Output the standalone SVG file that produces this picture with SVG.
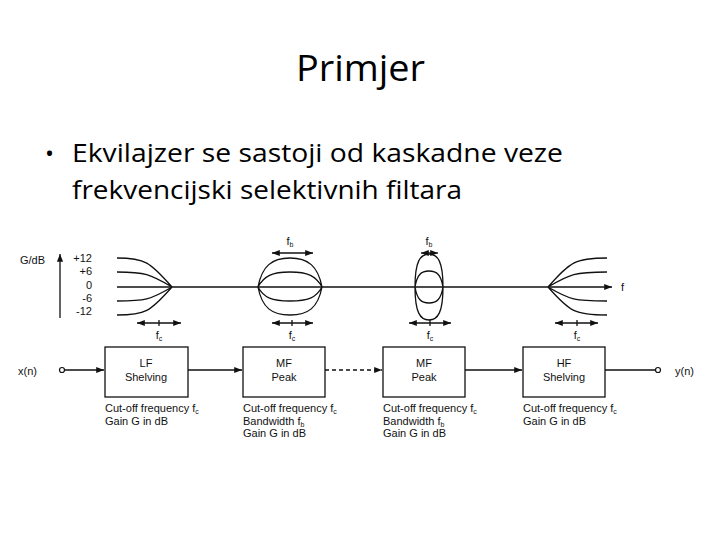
<svg xmlns="http://www.w3.org/2000/svg" width="720" height="540" viewBox="0 0 720 540">
<defs>
<marker id="ah" viewBox="0 0 10 10" refX="10" refY="5" markerWidth="7" markerHeight="6" orient="auto-start-reverse"><path d="M0,1 L10,5 L0,9 z" fill="#111"/></marker>
<style>
.c{fill:none;stroke:#111;stroke-width:1.3}
.t{font-family:"Liberation Sans",Arial,sans-serif;font-size:11px;fill:#111}
.bx{fill:#fff;stroke:#111;stroke-width:1.3}
.ln{stroke:#111;stroke-width:1.3;fill:none}
.h{font-family:'Open Sans','Liberation Sans',sans-serif;fill:#000}
</style>
</defs>
<rect width="720" height="540" fill="#fff"/>
<text class="h" x="296" y="81" font-size="36" textLength="129" lengthAdjust="spacingAndGlyphs">Primjer</text>
<text class="h" x="45" y="162" font-size="24">•</text>
<text class="h" x="72" y="162" font-size="25" textLength="491" lengthAdjust="spacingAndGlyphs">Ekvilajzer se sastoji od kaskadne veze</text>
<text class="h" x="72" y="199" font-size="25" textLength="390" lengthAdjust="spacingAndGlyphs">frekvencijski selektivnih filtara</text>

<g id="axes">
<text class="t" x="20" y="264">G/dB</text>
<line class="ln" x1="60" y1="318" x2="60" y2="254" marker-end="url(#ah)"/>
<text class="t" x="92" y="262" text-anchor="end">+12</text>
<text class="t" x="92" y="275" text-anchor="end">+6</text>
<text class="t" x="92" y="289" text-anchor="end">0</text>
<text class="t" x="92" y="302" text-anchor="end">-6</text>
<text class="t" x="92" y="315" text-anchor="end">-12</text>
<line class="ln" x1="117" y1="287" x2="612" y2="287" marker-end="url(#ah)"/>
<text class="t" x="621" y="291">f</text>
</g>

<g id="curves">
<path class="c" d="M117,258 C145,258 150,262 172,287 M117,272 C145,272 150,274 172,287 M117,301 C145,301 150,300 172,287 M117,315 C145,315 150,312 172,287"/>
<path class="c" d="M258,287 C262,266 272,258 290,258 C308,258 318,266 322,287 C318,308 308,315 290,315 C272,315 262,308 258,287 Z M258,287 C264,276 272,272 290,272 C308,272 316,276 322,287 C316,298 308,301 290,301 C272,301 264,298 258,287 Z"/>
<path class="c" d="M415,287 C415,262 420,254 429,254 C438,254 443,262 443,287 C443,312 438,320 429,320 C420,320 415,312 415,287 Z M415,287 C417,275 421,271 429,271 C437,271 441,275 443,287 C441,299 437,303 429,303 C421,303 417,299 415,287 Z"/>
<path class="c" d="M548,287 C570,262 575,258 607,258 M548,287 C570,274 575,272 607,272 M548,287 C570,300 575,301 607,301 M548,287 C570,312 575,315 607,315"/>
</g>

<g id="dims">
<line class="ln" x1="137" y1="323" x2="181" y2="323" marker-start="url(#ah)" marker-end="url(#ah)"/><line class="ln" x1="159" y1="320" x2="159" y2="326"/>
<text class="t" x="159" y="339" text-anchor="middle">f<tspan font-size="7" dy="2">c</tspan></text>
<line class="ln" x1="272" y1="323" x2="313" y2="323" marker-start="url(#ah)" marker-end="url(#ah)"/><line class="ln" x1="292" y1="320" x2="292" y2="326"/>
<text class="t" x="292" y="339" text-anchor="middle">f<tspan font-size="7" dy="2">c</tspan></text>
<line class="ln" x1="272" y1="253" x2="313" y2="253" marker-start="url(#ah)" marker-end="url(#ah)"/>
<text class="t" x="290" y="245" text-anchor="middle">f<tspan font-size="7" dy="2">b</tspan></text>
<line class="ln" x1="409" y1="323" x2="451" y2="323" marker-start="url(#ah)" marker-end="url(#ah)"/><line class="ln" x1="430" y1="320" x2="430" y2="326"/>
<text class="t" x="430" y="339" text-anchor="middle">f<tspan font-size="7" dy="2">c</tspan></text>
<line class="ln" x1="421" y1="253" x2="438" y2="253" marker-start="url(#ah)" marker-end="url(#ah)"/>
<text class="t" x="429" y="245" text-anchor="middle">f<tspan font-size="7" dy="2">b</tspan></text>
<line class="ln" x1="555" y1="323" x2="598" y2="323" marker-start="url(#ah)" marker-end="url(#ah)"/><line class="ln" x1="577" y1="320" x2="577" y2="326"/>
<text class="t" x="577" y="339" text-anchor="middle">f<tspan font-size="7" dy="2">c</tspan></text>
</g>

<g id="connectors">
<line class="ln" x1="65" y1="370" x2="104" y2="370" marker-end="url(#ah)"/>
<line class="ln" x1="188" y1="370" x2="242" y2="370" marker-end="url(#ah)"/>
<line class="ln" x1="325" y1="370" x2="382" y2="370" stroke-dasharray="4,3" marker-end="url(#ah)"/>
<line class="ln" x1="465" y1="370" x2="522" y2="370" marker-end="url(#ah)"/>
<line class="ln" x1="605" y1="370" x2="655" y2="370" stroke-width="1.8"/>
</g>

<g id="io">
<circle cx="62" cy="370" r="2.5" fill="#fff" stroke="#111" stroke-width="1.2"/>
<text class="t" x="18" y="375" font-size="12">x(n)</text>
<circle cx="658" cy="370" r="2.5" fill="#fff" stroke="#111" stroke-width="1.2"/>
<text class="t" x="675" y="375" font-size="12">y(n)</text>
</g>

<g id="lf"><rect class="bx" x="105" y="347" width="83" height="50"/>
<text class="t" x="146" y="367" text-anchor="middle">LF</text><text class="t" x="146" y="381" text-anchor="middle">Shelving</text>
<text class="t" x="105" y="412">Cut-off frequency f<tspan font-size="7" dy="2">c</tspan></text><text class="t" x="105" y="425">Gain G in dB</text></g>
<g id="mf1"><rect class="bx" x="243" y="347" width="82" height="50"/>
<text class="t" x="284" y="367" text-anchor="middle">MF</text><text class="t" x="284" y="381" text-anchor="middle">Peak</text>
<text class="t" x="243" y="412">Cut-off frequency f<tspan font-size="7" dy="2">c</tspan></text><text class="t" x="243" y="425">Bandwidth f<tspan font-size="7" dy="2">b</tspan></text><text class="t" x="243" y="437">Gain G in dB</text></g>
<g id="mf2"><rect class="bx" x="383" y="347" width="82" height="50"/>
<text class="t" x="424" y="367" text-anchor="middle">MF</text><text class="t" x="424" y="381" text-anchor="middle">Peak</text>
<text class="t" x="383" y="412">Cut-off frequency f<tspan font-size="7" dy="2">c</tspan></text><text class="t" x="383" y="425">Bandwidth f<tspan font-size="7" dy="2">b</tspan></text><text class="t" x="383" y="437">Gain G in dB</text></g>
<g id="hf"><rect class="bx" x="523" y="347" width="82" height="50"/>
<text class="t" x="564" y="367" text-anchor="middle">HF</text><text class="t" x="564" y="381" text-anchor="middle">Shelving</text>
<text class="t" x="523" y="412">Cut-off frequency f<tspan font-size="7" dy="2">c</tspan></text><text class="t" x="523" y="425">Gain G in dB</text></g>
</svg>
